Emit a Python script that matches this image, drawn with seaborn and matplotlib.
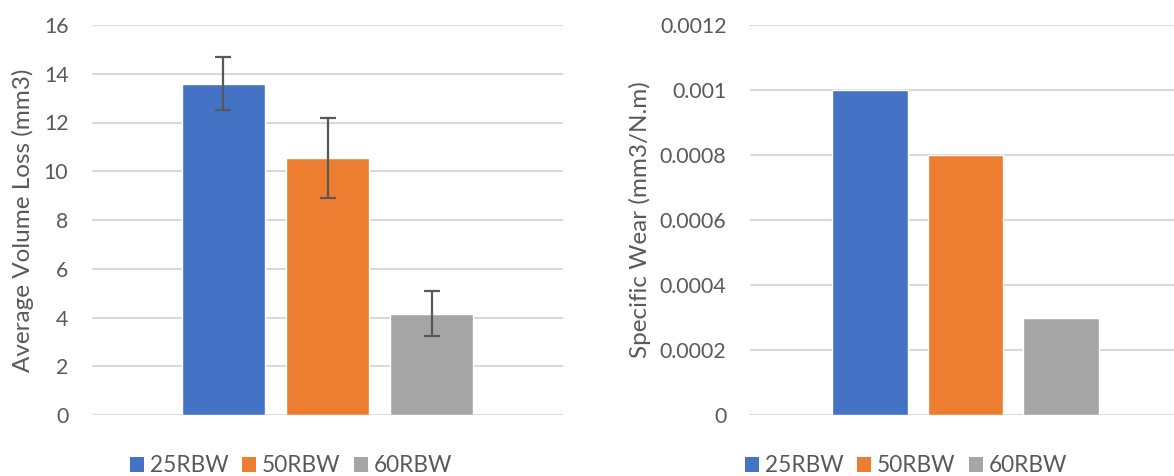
import numpy as np
import pandas as pd
import matplotlib
matplotlib.use("Agg")
import matplotlib.pyplot as plt
import matplotlib.ticker as mticker
from matplotlib.patches import Patch
import seaborn as sns

# Datos
samples = ["25RBW", "50RBW", "60RBW"]
volume_loss = [13.6, 10.55, 4.15]
volume_err = [1.1, 1.65, 0.92]
specific_wear = [0.001, 0.0008, 0.0003]
colors = ["#4472C4", "#ED7D31", "#A5A5A5"]

TEXT = "#595959"
GRID = "#D9D9D9"

sns.set_theme(style="white")
plt.rcParams["font.family"] = ["Lato", "DejaVu Sans"]

W, H = 1174, 476
fig = plt.figure(figsize=(W / 100, H / 100), dpi=100)


def px_axes(x0, x1, ytop, ybot):
    return fig.add_axes([x0 / W, 1 - ybot / H, (x1 - x0) / W, (ybot - ytop) / H])


def style_axes(ax, ymax, step, ylabel):
    ax.set_ylim(0, ymax)
    ax.set_xlim(-1.26, 3.26)
    ax.set_yticks(np.arange(0, ymax + step / 2, step))
    ax.yaxis.set_major_formatter(mticker.FuncFormatter(lambda v, p: f"{v:g}"))
    ax.set_xticks([])
    ax.set_xlabel("")
    ax.set_ylabel(ylabel, fontsize=17.5, color=TEXT)
    ax.tick_params(axis="y", length=0, pad=17, labelsize=15.3, labelcolor=TEXT)
    ax.grid(axis="y", color=GRID, lw=1.5)
    ax.set_axisbelow(True)
    for s in ax.spines.values():
        s.set_visible(False)


# Panel izquierdo
df1 = pd.DataFrame({"sample": samples, "value": volume_loss})
ax1 = px_axes(92, 563, 25, 415)
sns.barplot(data=df1, x="sample", y="value", hue="sample", palette=colors,
            saturation=1, width=0.795, legend=False, ax=ax1)
ax1.errorbar(np.arange(len(samples)), volume_loss, yerr=volume_err, fmt="none",
             ecolor="#595959", elinewidth=1.6, capsize=6, capthick=1.6, zorder=5)
style_axes(ax1, 16, 2, "Average Volume Loss (mm3)")
ax1.yaxis.set_label_coords(-0.123, 0.5)

# Panel derecho
df2 = pd.DataFrame({"sample": samples, "value": specific_wear})
ax2 = px_axes(750, 1181, 25, 415)
sns.barplot(data=df2, x="sample", y="value", hue="sample", palette=colors,
            saturation=1, width=0.795, legend=False, ax=ax2)
style_axes(ax2, 0.0012, 0.0002, "Specific Wear (mm3/N.m)")
ax2.yaxis.set_label_coords(-0.23, 0.5)

# Leyendas
handles = [Patch(facecolor=c, edgecolor="none") for c in colors]
for cx in (291, 906):
    fig.legend(handles, samples, loc="center", bbox_to_anchor=(cx / W, 1 - 466 / H),
               ncol=3, frameon=False, fontsize=16.3, labelcolor=TEXT,
               handlelength=0.62, handleheight=0.62, handletextpad=0.25,
               columnspacing=0.6, borderaxespad=0, borderpad=0)

fig.savefig("out.png", dpi=100, facecolor="white")
